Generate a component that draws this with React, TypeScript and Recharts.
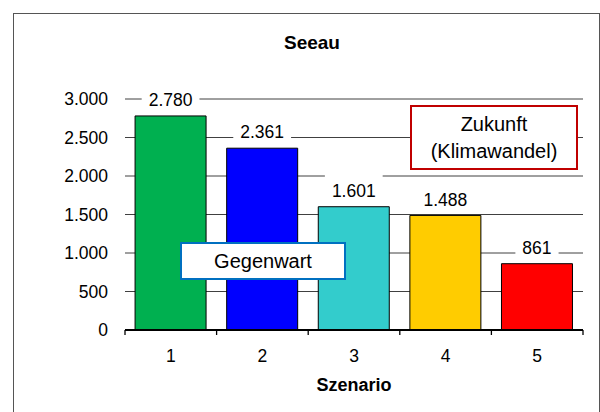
import { BarChart, Bar, XAxis, YAxis, CartesianGrid, Cell, LabelList } from 'recharts';

const scenarios = ['1', '2', '3', '4', '5'];
const seeauValues = [2780, 2361, 1601, 1488, 861];
const barColors = ['#00B050', '#0000FF', '#33CCCC', '#FFCC00', '#FF0000'];
const yTicks = [0, 500, 1000, 1500, 2000, 2500, 3000];

const data = scenarios.map((s, i) => ({ name: s, value: seeauValues[i] }));

const FONT = '"Liberation Sans", Arial, sans-serif';

// 2780 -> "2.780"
function formatDe(v: number) {
  return String(Math.round(v)).replace(/\B(?=(\d{3})+(?!\d))/g, '.');
}

function textWidth(s: string, size: number) {
  let w = 0;
  for (const ch of s) w += ch === '.' ? 0.278 : 0.556;
  return w * size;
}

const ValueLabel = (props: any) => {
  const vb = props.viewBox ?? {};
  const x = props.x ?? vb.x;
  const y = props.y ?? vb.y;
  const width = props.width ?? vb.width;
  const label = formatDe(Number(props.value));
  const cx = x + width / 2;
  const cy = y - 16;
  const w = textWidth(label, 17.5) + 14;
  return (
    <g>
      <rect x={cx - w / 2} y={cy - 17} width={w} height={30} fill="#fff" />
      <text x={cx} y={cy} dy="0.355em" textAnchor="middle" fontSize={17.5} fontFamily={FONT} fill="#000">
        {label}
      </text>
    </g>
  );
};

const ScenarioTick = (props: any) => {
  const { x, y, payload, index } = props;
  const half = payload?.offset ?? 45.8;
  const axisY = y - 20;
  return (
    <g>
      <line x1={x - half} x2={x - half} y1={axisY} y2={axisY + 5} stroke="#000" strokeWidth={1.3} />
      {index === scenarios.length - 1 && (
        <line x1={x + half} x2={x + half} y1={axisY} y2={axisY + 5} stroke="#000" strokeWidth={1.3} />
      )}
      <text x={x} y={y} dy="0.71em" textAnchor="middle" fontSize={17.5} fontFamily={FONT} fill="#000">
        {payload.value}
      </text>
    </g>
  );
};

export default function App() {
  return (
    <div style={{ position: 'absolute', left: 0, top: 0, width: 600, height: 412, background: '#fff', overflow: 'hidden', fontFamily: FONT }}>
      <div style={{ position: 'absolute', left: 13, top: 13, width: 585, height: 420, border: '1px solid #555' }} />
      <BarChart
        width={600}
        height={412}
        data={data}
        margin={{ top: 99, right: 17, bottom: 20, left: 0 }}
        barCategoryGap="11%"
      >
        <CartesianGrid vertical={false} stroke="#404040" />
        <XAxis
          dataKey="name"
          height={62}
          axisLine={{ stroke: '#000', strokeWidth: 2 }}
          tickLine={false}
          tickSize={6}
          tickMargin={14}
          tick={<ScenarioTick />}
          interval={0}
          label={{ value: 'Szenario', position: 'insideBottom', offset: 1, fontSize: 18, fontWeight: 'bold', fill: '#000', fontFamily: FONT }}
        />
        <YAxis
          width={125}
          domain={[0, 3000]}
          ticks={yTicks}
          axisLine={false}
          tickLine={false}
          tickSize={6}
          tickMargin={11}
          tickFormatter={formatDe}
          tick={{ fontSize: 17.5, fill: '#000', fontFamily: FONT }}
        />
        <Bar dataKey="value" stroke="#000" strokeWidth={1} isAnimationActive={false}>
          {data.map((d, i) => (
            <Cell key={d.name} fill={barColors[i]} />
          ))}
          <LabelList dataKey="value" content={<ValueLabel />} />
        </Bar>
      </BarChart>
      <div style={{ position: 'absolute', left: 212, top: 33, width: 200, textAlign: 'center', fontSize: 19, lineHeight: '19px', fontWeight: 'bold', color: '#000' }}>
        Seeau
      </div>
      <div
        style={{
          position: 'absolute', left: 180, top: 242, width: 166, height: 38, boxSizing: 'border-box',
          border: '2px solid #0070C0', background: '#fff', display: 'flex', alignItems: 'center',
          justifyContent: 'center', fontSize: 20, color: '#000',
        }}
      >
        Gegenwart
      </div>
      <div
        style={{
          position: 'absolute', left: 410, top: 105, width: 168, height: 65, boxSizing: 'border-box',
          border: '2px solid #C00000', background: '#fff', display: 'flex', flexDirection: 'column',
          alignItems: 'center', justifyContent: 'center', fontSize: 20, lineHeight: '27px', color: '#000',
        }}
      >
        <div>Zukunft</div>
        <div>(Klimawandel)</div>
      </div>
    </div>
  );
}
